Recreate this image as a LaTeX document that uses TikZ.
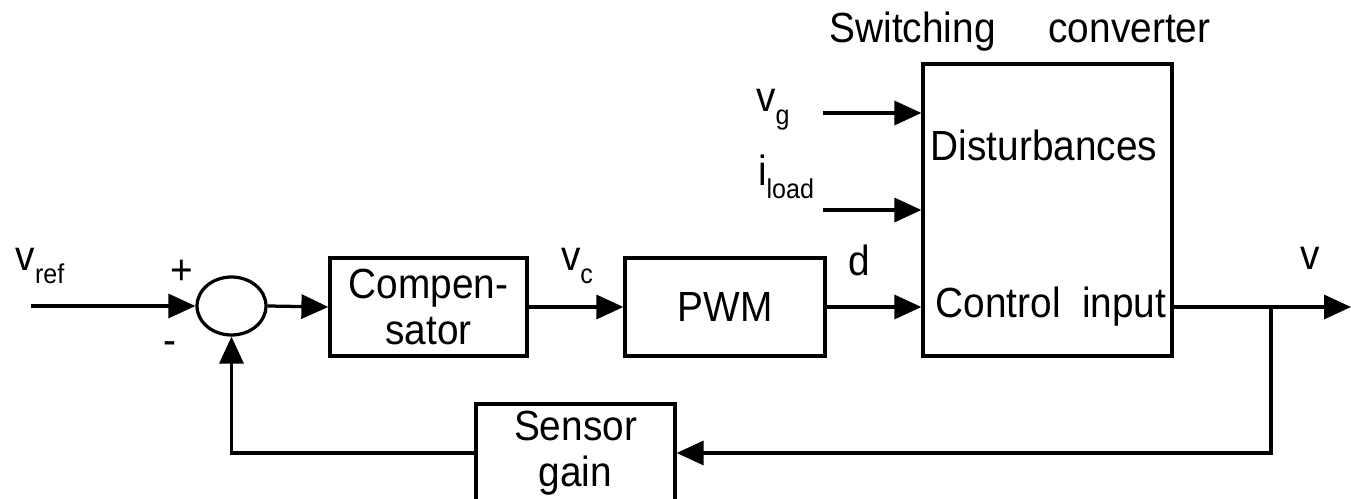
\documentclass[tikz,border=0pt]{standalone}
\usepackage{fontspec}
\setmainfont{Liberation Sans}[FakeStretch=0.92]
\usetikzlibrary{arrows.meta,shapes.geometric}

\newcommand{\lowsub}[1]{\raisebox{-0.3em}{\fontsize{15.5pt}{15.5pt}\selectfont #1}}

\begin{document}
\begin{tikzpicture}[
        x=0.02cm, y=-0.02cm,
        line width=0.065cm,
        >={Triangle[length=0.54cm,width=0.48cm]},
        block/.style={draw, rectangle, minimum height=1.96cm, align=center,
            inner sep=0pt, font=\fontsize{24pt}{26pt}\selectfont},
        sumnode/.style={draw, ellipse, minimum width=1.38cm, minimum height=1.16cm, inner sep=0pt},
        lbl/.style={inner sep=0pt, font=\fontsize{24pt}{26pt}\selectfont}
    ]

    \useasboundingbox (0,0) rectangle (1351,499);
    \clip (0,0) rectangle (1351,499);

    \node[sumnode] (sum) at (231.5,306) {};
    \node[block, minimum width=3.94cm] (comp) at (428.5,307) {Compen-\\sator};
    \node[block, minimum width=4cm] (pwm) at (725,307) {PWM};
    \node[block, minimum width=4.98cm, minimum height=5.84cm] (conv) at (1047.5,210) {};
    \node[block, minimum width=3.98cm] (sens) at (575.5,453) {Sensor\\gain};

    \node[lbl] (title) at (1020,32) {Switching\quad\ converter};
    \node[lbl] (dist) at (1044,145) {Disturbances};
    \node[lbl] (ctrl) at (1051,307) {Control\ \ input};

    \coordinate (in) at (31,306);
    \coordinate (vgin) at (823,113);
    \coordinate (ldin) at (823,210);
    \coordinate (out) at (1351,307);
    \coordinate (br) at (1271,307);
    \coordinate (fb) at (231.5,453);

    \node[lbl] (vref) at (40,266) {v\lowsub{ref}};
    \node[lbl] (plus) at (182,272) {+};
    \node[lbl] (minus) at (170,348) {-};
    \node[lbl] (vc) at (577,266) {v\lowsub{c}};
    \node[lbl] (d) at (859,260) {d};
    \node[lbl] (v) at (1310,258) {v};
    \node[lbl] (vg) at (773,110) {v\lowsub{g}};
    \node[lbl] (il) at (786,177) {i\lowsub{load}};

    \draw[->] (in) -- (sum.west);
    \draw[->] (sum.east) -- (comp.west);
    \draw[->] (comp.east) -- (pwm.west);
    \draw[->] (pwm.east) -- (pwm.east -| conv.west);
    \draw[->] (vgin) -- (vgin -| conv.west);
    \draw[->] (ldin) -- (ldin -| conv.west);
    \draw[->] (conv.east |- out) -- (out);
    \draw[->] (br) |- (sens.east);
    \draw[->] (sens.west) -- (fb) -- (sum.south);
\end{tikzpicture}
\end{document}
